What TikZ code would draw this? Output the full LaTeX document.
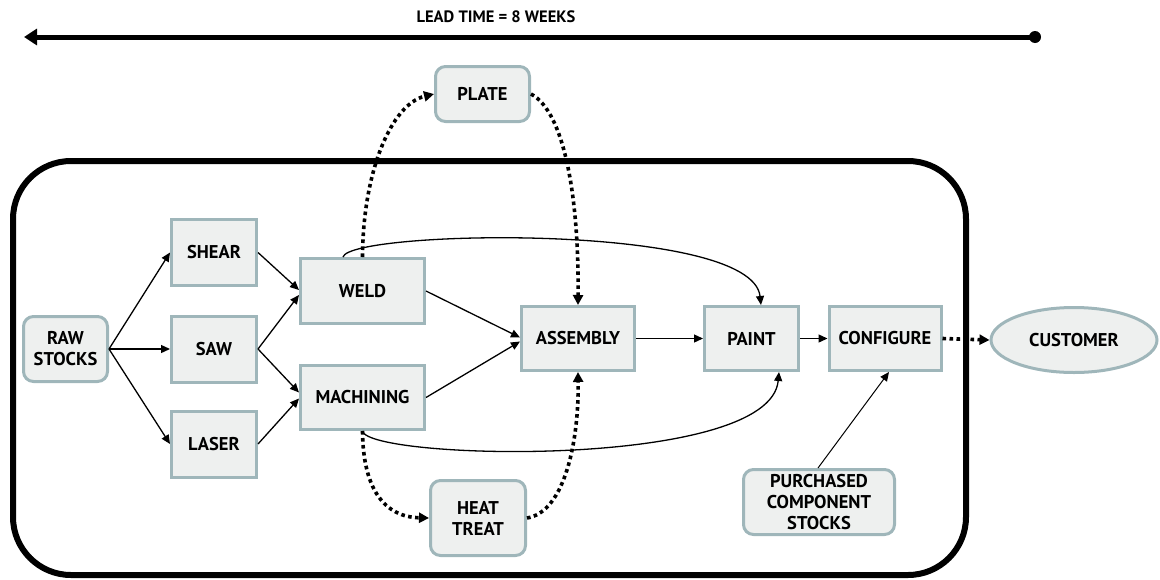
\documentclass[tikz,border=0pt]{standalone}
\usepackage{fontspec}
\setmainfont{PT Sans}
\usetikzlibrary{arrows.meta,shapes.geometric}
\definecolor{bordc}{HTML}{9FB6BA}
\definecolor{fillc}{HTML}{EEF0EF}
\begin{document}
\begin{tikzpicture}[x=1pt,y=-1pt,
  lbl/.style={font=\fontsize{18.5}{21}\selectfont\bfseries, align=center, text=black},
  sqbox/.style={lbl, rectangle, draw=bordc, fill=fillc, line width=3pt, inner sep=0pt},
  rbox/.style={sqbox, rounded corners=10pt},
  arr/.style={-{Triangle[length=9pt,width=8pt]}, line width=1.3pt},
  dotarr/.style={-{Triangle[length=10pt,width=10pt]}, line width=3.6pt, dash pattern=on 3.6pt off 3.4pt},
  curv/.style={-{Triangle[length=9pt,width=8pt]}, line width=1.3pt}
]
\useasboundingbox (0,0) rectangle (1160,579);

% lead time
\node[font=\fontsize{16.5}{18}\selectfont\bfseries] (leadlbl) at (496,17) {LEAD TIME = 8 WEEKS};
\node[circle, fill=black, inner sep=0pt, minimum size=12pt] (leaddot) at (1035,37) {};
\coordinate (leadtip) at (24,37);
\draw[line width=5pt, -{Triangle[length=13pt,width=16pt]}] (leaddot.center) -- (leadtip);

% enclosure
\draw[line width=6pt, rounded corners=58pt] (13,161) rectangle (966,575);

% nodes
\node[rbox, minimum width=84pt, minimum height=65pt] (raw) at (65.5,349) {RAW\\STOCKS};
\node[sqbox, minimum width=85pt, minimum height=66pt] (shear) at (214,252.5) {SHEAR};
\node[sqbox, minimum width=85pt, minimum height=66pt] (saw) at (214,349) {SAW};
\node[sqbox, minimum width=85pt, minimum height=66pt] (laser) at (214,444) {LASER};
\node[sqbox, minimum width=124pt, minimum height=65pt] (weld) at (362.5,291) {WELD};
\node[sqbox, minimum width=124pt, minimum height=64pt] (mach) at (362.5,397.5) {MACHINING};
\node[rbox, minimum width=94pt, minimum height=55pt] (plate) at (482.5,94) {PLATE};
\node[sqbox, minimum width=113pt, minimum height=64pt] (asm) at (578,338.5) {ASSEMBLY};
\node[sqbox, minimum width=94pt, minimum height=64pt] (paint) at (751.5,338.5) {PAINT};
\node[sqbox, minimum width=112pt, minimum height=64pt] (conf) at (885,338.5) {CONFIGURE};
\node[lbl, ellipse, draw=bordc, fill=fillc, line width=3pt, inner sep=0pt, minimum width=166pt, minimum height=65pt] (cust) at (1074,340) {CUSTOMER};
\node[rbox, minimum width=95pt, minimum height=75pt] (heat) at (478,518) {HEAT\\TREAT};
\node[rbox, minimum width=151pt, minimum height=65pt] (purch) at (819,502) {PURCHASED\\COMPONENT\\STOCKS};

% straight connectors
\draw[arr] (raw.east) -- (shear.west);
\draw[arr] (raw.east) -- (saw.west);
\draw[arr] (raw.east) -- (laser.west);
\draw[arr] (shear.east) -- ([yshift=1pt]weld.west);
\draw[arr] (saw.east) -- ([yshift=-4pt]weld.west);
\draw[arr] (saw.east) -- ([yshift=5pt]mach.west);
\draw[arr] (laser.east) -- ([yshift=-1pt]mach.west);
\draw[arr] (weld.east) -- ([yshift=1pt]asm.west);
\draw[arr] (mach.east) -- ([yshift=-3pt]asm.west);
\draw[arr] (asm.east) -- (paint.west);
\draw[arr] (paint.east) -- (conf.west);
\draw[arr, line width=1pt] ([xshift=-1pt]purch.north) -- ([xshift=4pt]conf.south);

% curved connectors
\draw[curv] ([xshift=-19.5pt]weld.north) .. controls (350,230) and (752,222) .. ([xshift=9.5pt]paint.north);
\draw[curv] (mach.south) .. controls (368,460) and (770,470) .. ([xshift=27.5pt]paint.south);

% dotted connectors
\draw[dotarr] (weld.north) .. controls (363,170) and (392,104) .. (plate.west);
\draw[dotarr] (plate.east) .. controls (565,112) and (579,200) .. (asm.north);
\draw[dotarr] (mach.south) .. controls (363,490) and (385,517) .. (heat.west);
\draw[dotarr] (heat.east) .. controls (565,512) and (579,440) .. (asm.south);
\draw[dotarr] (conf.east) -- (cust.west);
\end{tikzpicture}
\end{document}
